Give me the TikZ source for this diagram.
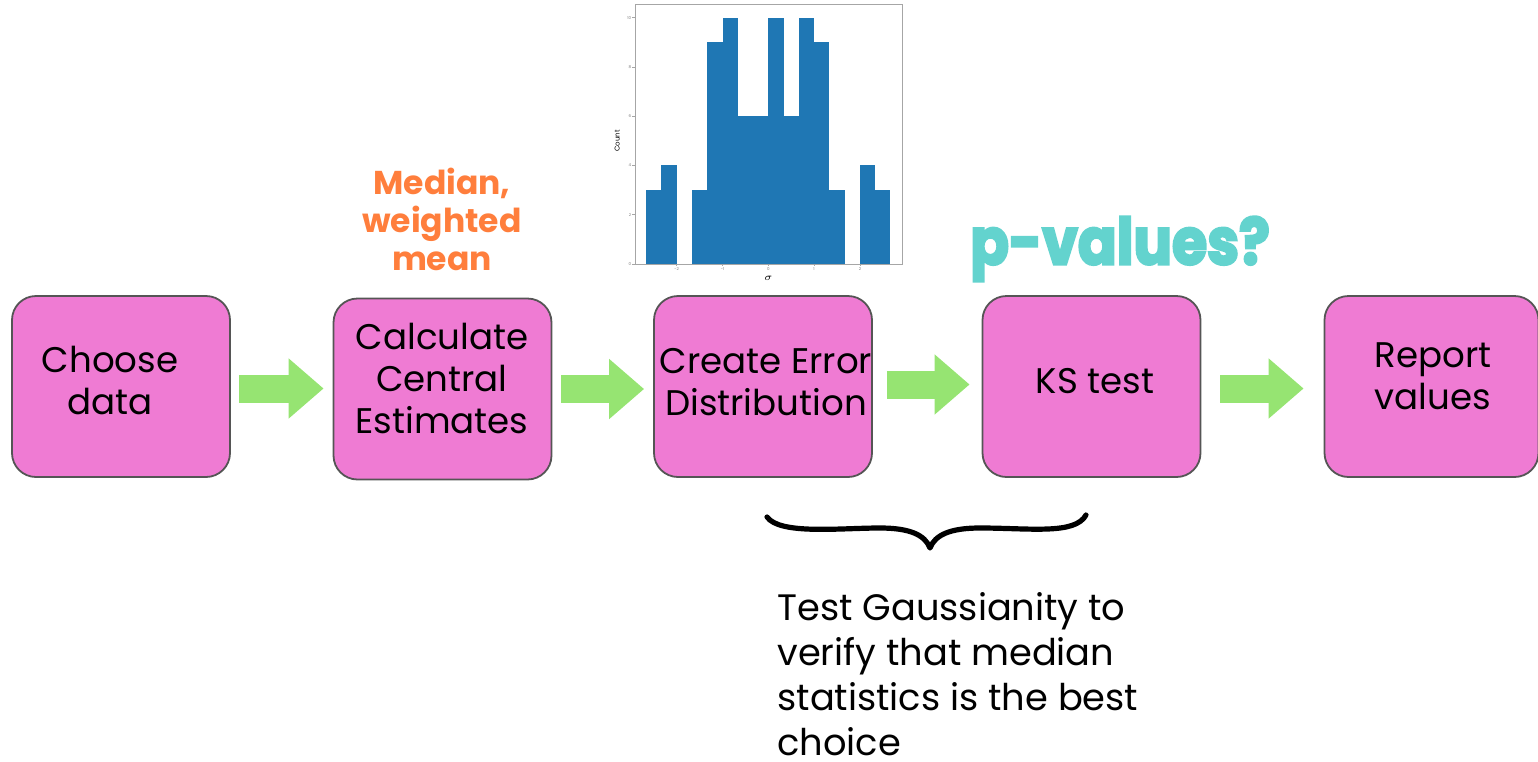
\documentclass[tikz,border=0pt]{standalone}
\usepackage{fontspec}
\setmainfont{Poppins}
\newfontfamily\heavyfont{Poppins}[FakeBold=4]
\usetikzlibrary{arrows.meta}
\definecolor{boxpink}{HTML}{EF7BD3}
\definecolor{boxedge}{HTML}{555555}
\definecolor{agreen}{HTML}{96E472}
\definecolor{orng}{HTML}{FF7E3C}
\definecolor{teal}{HTML}{63D3CE}
\definecolor{histblue}{HTML}{1F77B4}
\tikzset{
  stepbox/.style={draw=boxedge, line width=0.9pt, fill=boxpink, rounded corners=12pt,
    minimum width=109pt, minimum height=90.5pt, inner sep=0pt},
  steptext/.style={align=center, inner sep=0pt, font=\fontsize{17.8}{21}\selectfont},
  garrow/.style={draw=agreen, line width=14pt, -{Triangle[length=17.5pt,width=29pt]}},
  ticklab/.style={font=\fontsize{2}{2.5}\selectfont, text=gray, inner sep=0.4pt}
}
\begin{document}
\begin{tikzpicture}[x=0.5pt,y=-0.5pt]
\useasboundingbox (0,0) rectangle (1538,761);
% boxes
\node[stepbox] (b1) at (121,386.5) {};
\node[stepbox] (b2) at (442.5,389) {};
\node[stepbox] (b3) at (763,386.5) {};
\node[stepbox] (b4) at (1091.5,386.5) {};
\node[stepbox, minimum width=107pt] (b5) at (1431.5,386.5) {};
\node[steptext] (t1) at (110,380) {Choose\\data};
\node[steptext] (t2) at (442,378) {Calculate\\Central\\Estimates};
\node[steptext] (t3) at (766,382) {Create Error\\Distribution};
\node[steptext] (t4) at (1095,381) {KS test};
\node[steptext] (t5) at (1433,376) {Report\\values};
% arrows
\draw[garrow, shorten <=4pt, shorten >=4.5pt] ([yshift=-1pt]b1.east) -- ([yshift=-1pt]b1.east -| b2.west);
\draw[garrow, shorten <=4.5pt, shorten >=4.5pt] ([yshift=0pt]b2.east) -- ([yshift=0pt]b2.east -| b3.west);
\draw[garrow, shorten <=7pt, shorten >=6pt] ([yshift=1pt]b3.east) -- ([yshift=1pt]b3.east -| b4.west);
\draw[garrow, shorten <=9.5pt, shorten >=10pt] ([yshift=-1pt]b4.east) -- ([yshift=-1pt]b4.east -| b5.west);
% annotations
\node[font=\bfseries\fontsize{16.5}{19}\selectfont, text=orng, align=center] (med) at (442,219) {Median,\\weighted\\mean};
\node[font=\heavyfont\bfseries\fontsize{28}{30}\selectfont, text=teal, inner sep=0pt] (pv) at (1120,249) {\scalebox{1.02}[1.15]{p-values?}};
% brace
\coordinate (brL) at (767,517);
\coordinate (brR) at (1086,515);
\coordinate (brM) at (930,548);
\draw[line width=2.6pt, line cap=round, line join=round]
  (brL) .. controls (780,535) and (840,528) .. (880,528)
  .. controls (910,528) and (925,535) .. (brM)
  .. controls (935,535) and (950,528) .. (980,528)
  .. controls (1030,528) and (1075,535) .. (brR);
\node[anchor=north west, align=left, font=\fontsize{18.4}{22.5}\selectfont, inner sep=0pt] (gauss) at (777,592)
  {Test Gaussianity to\\verify that median\\statistics is the best\\choice};
% histogram
\begin{scope}[shift={(768.3,264)}, x=22.9pt, y=12.315pt]
  \foreach \c [count=\i from 0] in {3,4,0,3,9,10,6,6,10,6,10,9,3,0,4,3} {
    \ifnum\c>0
      \fill[histblue] ({-8/3+\i/3},0) rectangle ({-8/3+(\i+1)/3},\c);
    \fi
  }
  \draw[gray!70, line width=0.5pt] (-2.91,0) rectangle (2.92,10.52);
  \foreach \t in {-2,-1,0,1,2} {
    \draw[gray!70, line width=0.3pt] (\t,0) -- (\t,-0.1);
    \node[ticklab, anchor=north] at (\t,-0.1) {\t};
  }
  \foreach \t in {0,2,4,6,8,10} {
    \draw[gray!70, line width=0.3pt] (-2.91,\t) -- (-2.97,\t);
    \node[ticklab, anchor=east] at (-2.97,\t) {\t};
  }
  \node[font=\fontsize{3.5}{4}\selectfont, rotate=90] at (-3.3,5) {Count};
  \node[font=\fontsize{3.5}{4}\selectfont] at (0,-0.58) {$\sigma$};
\end{scope}
\end{tikzpicture}
\end{document}
